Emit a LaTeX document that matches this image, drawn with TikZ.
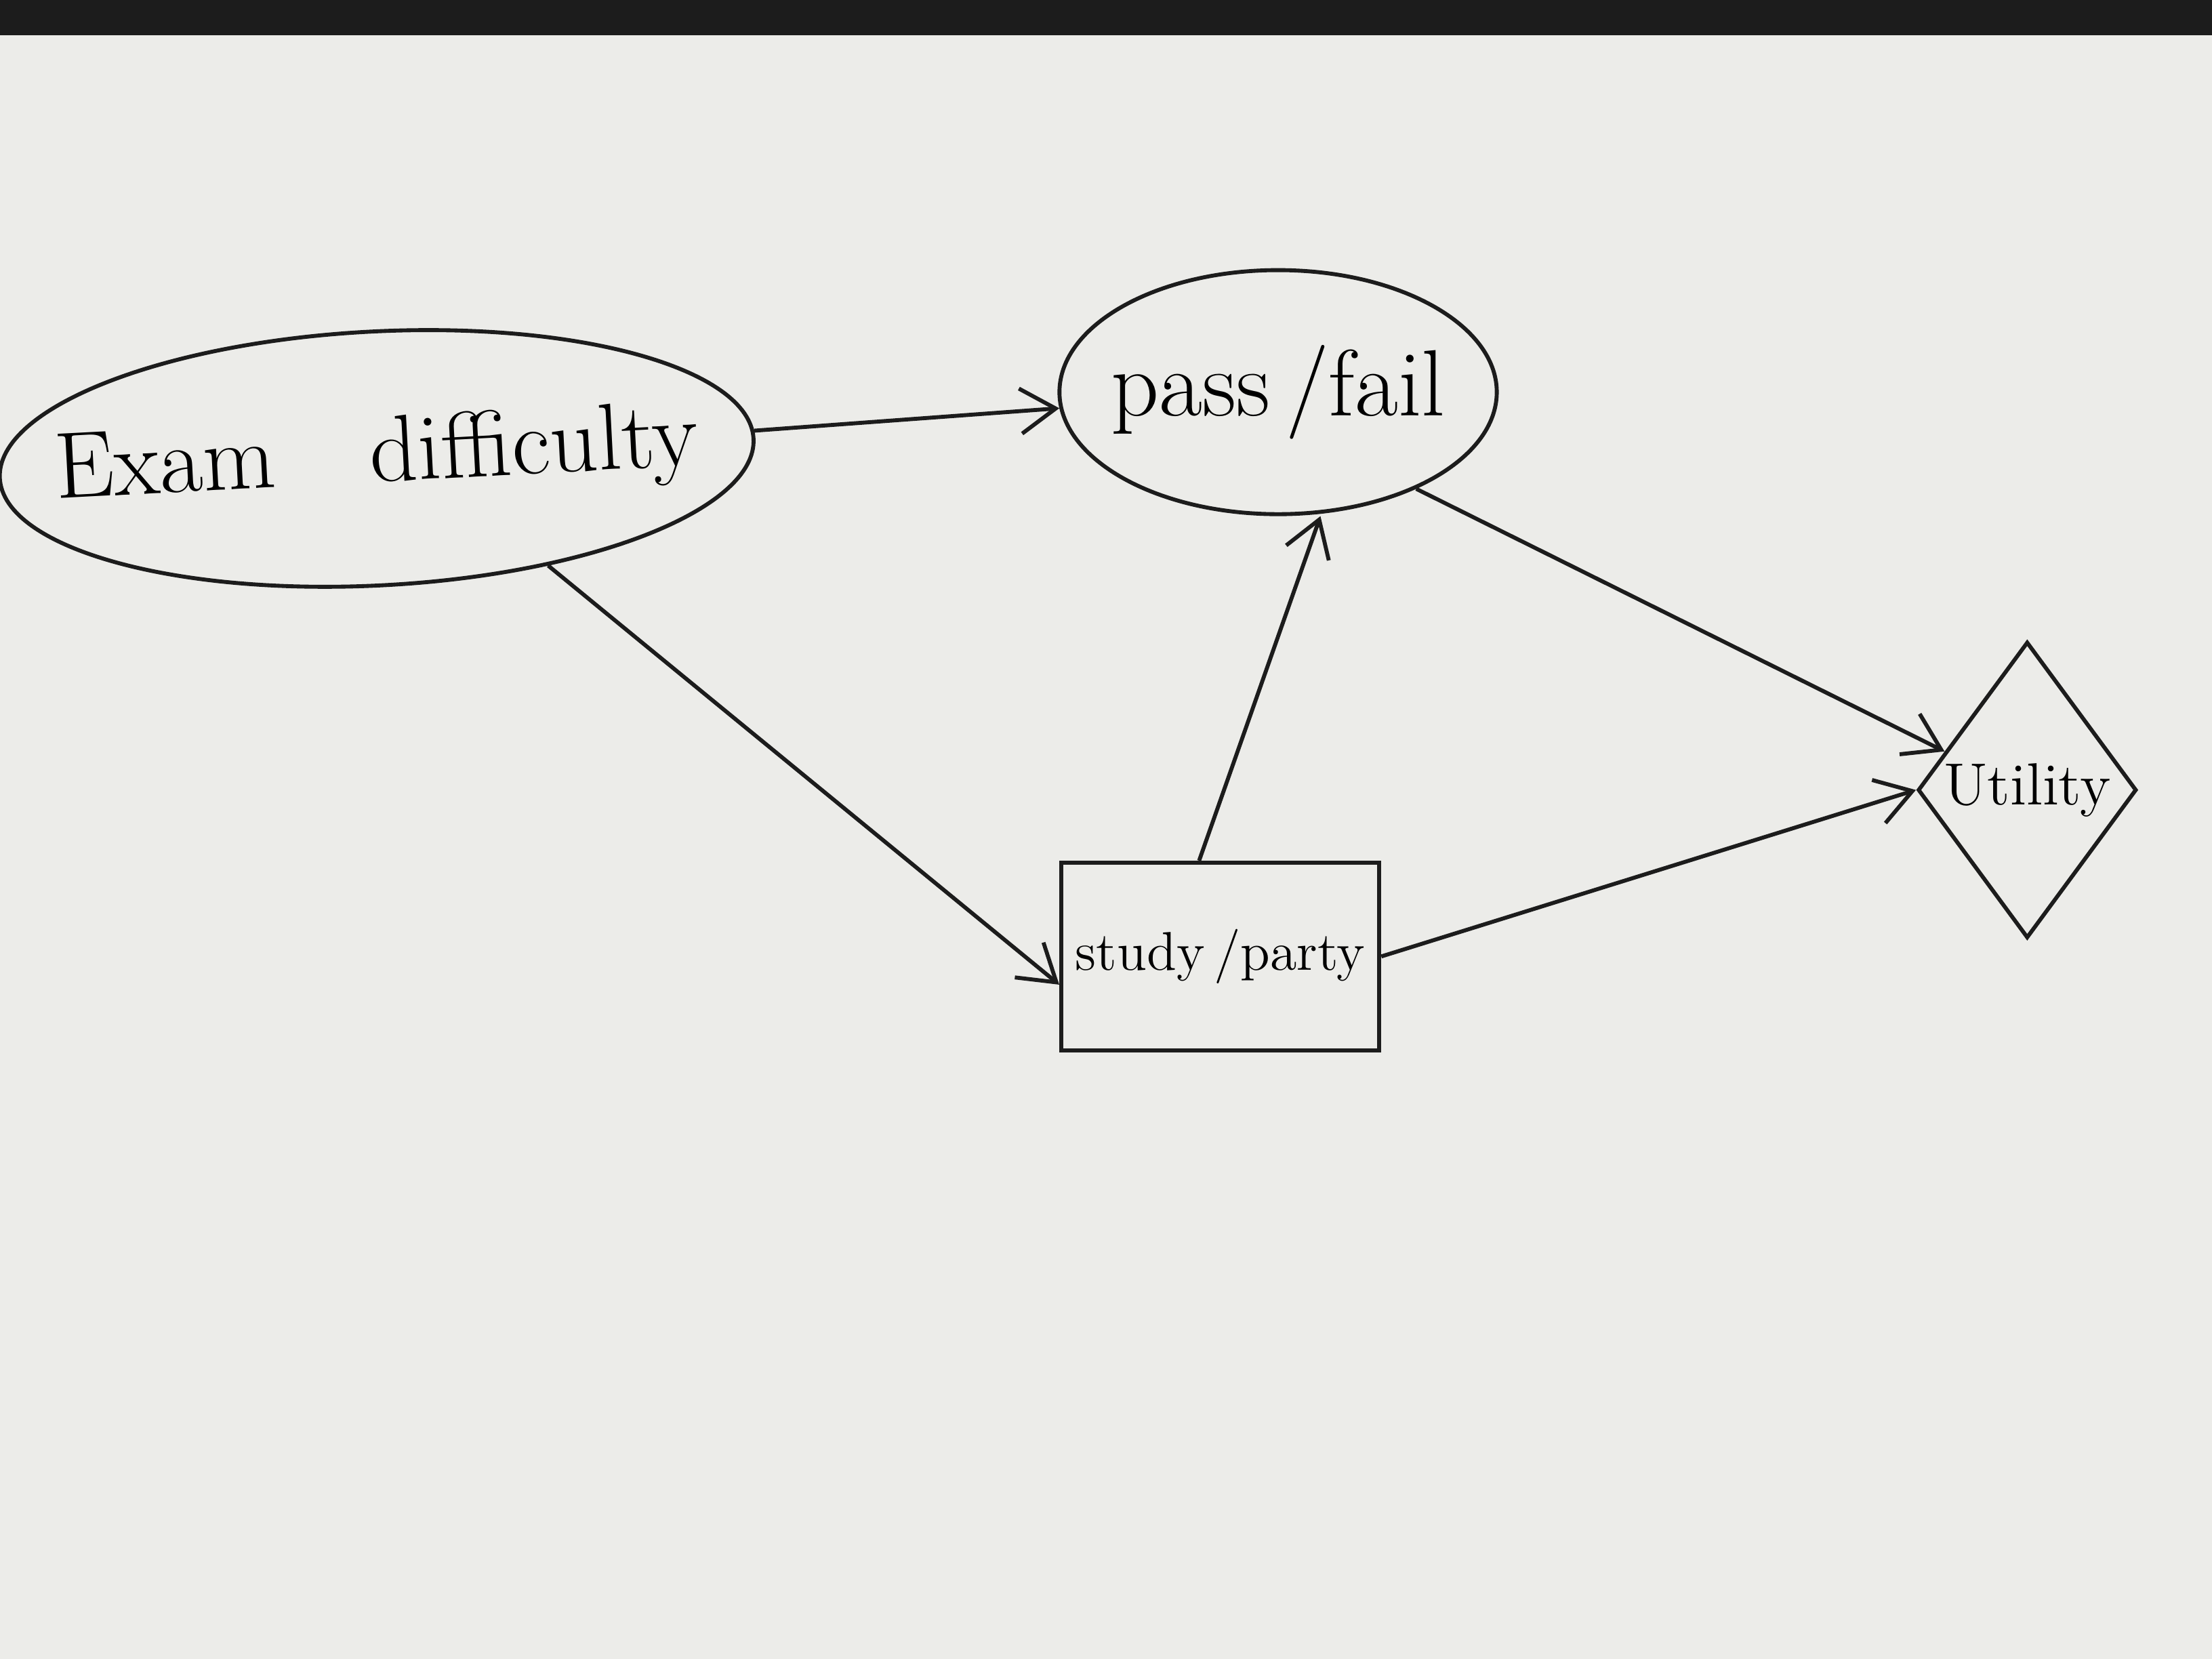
\documentclass[tikz,border=0pt]{standalone}
\usepackage{tikz}
\usetikzlibrary{arrows.meta,positioning,shapes.geometric}
\definecolor{paper}{RGB}{236,236,233}
\definecolor{ink}{RGB}{28,28,28}

\begin{document}
\begin{tikzpicture}[
  chance/.style={draw=ink,thick,ellipse,align=center,font=\fontsize{19}{23}\selectfont,inner sep=0pt},
  decision/.style={draw=ink,thick,rectangle,font=\fontsize{11}{13}\selectfont,inner xsep=1mm,minimum width=2.2cm,minimum height=1.33cm},
  utilitynode/.style={draw=ink,thick,diamond,aspect=0.7,font=\fontsize{12}{14}\selectfont,minimum width=1.55cm,minimum height=2.1cm,inner sep=0pt},
  link/.style={-{Straight Barb[length=2.5mm,width=3.2mm]},thick,draw=ink}]
  \useasboundingbox (0,0) rectangle (15.68,11.76);
  % paper and the dark edge of the photo
  \fill[paper] (0,0) rectangle (15.68,11.76);
  \fill[ink] (0,11.51) rectangle (15.68,11.76);
  % nodes
  \node[chance,inner xsep=-6mm,minimum width=5.35cm,minimum height=1.8cm,rotate=3] (exam) at (2.67,8.51) {Exam\quad difficulty};
  \node[chance,inner xsep=-2mm,minimum width=3.1cm,minimum height=1.73cm] (pass) at (9.06,8.98) {pass\,/fail};
  \node[decision] (study) at (8.65,4.98) {study\,/party};
  \node[utilitynode] (utility) at (14.37,6.16) {Utility};
  % links
  \draw[link] (exam) -- (pass);
  \draw[link] (exam.-35) -- ([yshift=-2mm]study.west);
  \draw[link] ([xshift=-1.5mm]study.north) -- ([xshift=3mm]pass.south);
  \draw[link] (pass.-35) -- (utility.155);
  \draw[link] (study.east) -- (utility.west);
\end{tikzpicture}
\end{document}
